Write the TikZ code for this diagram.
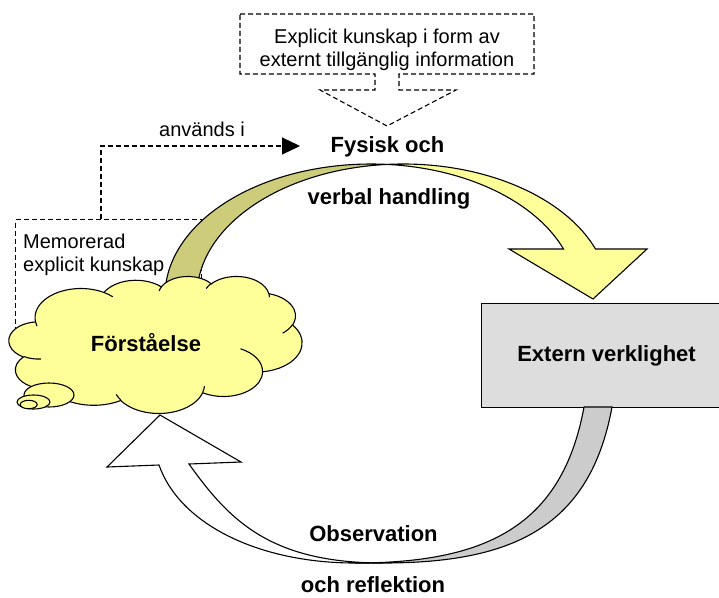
\documentclass[tikz,border=0pt]{standalone}
\usepackage{fontspec}
\setmainfont{Liberation Sans}
\usetikzlibrary{arrows.meta}
\definecolor{cloudyellow}{RGB}{255,255,153}
\definecolor{ribbonback}{RGB}{204,204,122}
\definecolor{realgrey}{RGB}{221,221,221}
\definecolor{bandgrey}{RGB}{204,204,204}
\tikzset{
  outline/.style={draw=black, line width=1.1pt, line join=miter},
  dashline/.style={draw=black, line width=1.1pt, dash pattern=on 5pt off 3pt},
  plain/.style={font=\fontsize{20}{23}\selectfont, inner sep=0pt},
  strong/.style={font=\fontsize{22}{26}\selectfont\bfseries, inner sep=0pt},
  bubble/.style={outline, fill=cloudyellow},
  % elliptic arc given by radii and visual start/sweep angles
  carc/.style n args={4}{start angle={vis(#1,#2,#3)},
    delta angle={vdel(#1,#2,#3,#4)}, x radius=#1, y radius=#2},
}
\begin{document}
\begin{tikzpicture}[x=1pt, y=-1pt,
  declare function={
    vis(\ra,\rb,\th)=atan2(\ra*sin(\th),\rb*cos(\th));
    vdel(\ra,\rb,\st,\sw)=(vis(\ra,\rb,\st+\sw)-vis(\ra,\rb,\st))
      +360*round((\sw-vis(\ra,\rb,\st+\sw)+vis(\ra,\rb,\st))/360);
  }]
\useasboundingbox (0,0) rectangle (719,597);
\clip (0,0) rectangle (719,597);

% memorised knowledge frame (lower part hidden by the cloud)
\node[dashline, minimum width=186pt, minimum height=121pt, inner sep=0pt,
      anchor=north west] (memo) at (15,219) {};
\node[plain, anchor=north west, align=left] (memotext) at (23,233.5)
      {Memorerad\\explicit kunskap};

% external information callout
\draw[dashline] (240,14) -- (534,14) -- (534,74) -- (399,74) -- (399,90)
  -- (456,90) -- (387,126) -- (320,90) -- (375,90) -- (375,74) -- (240,74) -- cycle;
\node[plain, anchor=north, align=center] (info) at (387,28.5)
      {Explicit kunskap i form av\\externt tillgänglig information};

% labels of the upper ribbon
\node[strong, anchor=base] (fysisk) at (387.5,152) {Fysisk och};
\node[strong, anchor=base] (verbal) at (389,204) {verbal handling};
\coordinate (usedEnd) at (300,146);
\node[plain, anchor=base] (used) at (202,136.5) {används i};
\draw[dashline, -{Triangle[length=18pt,width=17pt]}]
  ([xshift=86pt]memo.north west) |- (usedEnd);

% upper ribbon: back side
\filldraw[outline, fill=ribbonback]
  (165,296) arc[start angle=180, end angle=274.455, x radius=206, y radius=132]
  arc[start angle=265.545, end angle=180, x radius=206, y radius=132] -- cycle;
% upper ribbon: front side with arrow head
\filldraw[outline, fill=cloudyellow]
  (387,164.4) arc[start angle=265.545, end angle=339.142, x radius=206, y radius=132]
  -- (647,249) -- (593,299) -- (509,249) -- (563.5,249)
  arc[start angle=339.142, end angle=274.455, x radius=206, y radius=132] -- cycle;

% thought cloud (drawn on a 432 x 432 grid)
\begin{scope}[shift={(9,276)}, x=0.6782pt, y=-0.3171pt]
  \filldraw[outline, fill=cloudyellow] (39.00,143.70)
    arc[carc={67.53}{91.90}{-190.4875}{123.7805}]
    arc[carc={53.33}{72.67}{-144.1024}{89.9452}]
    arc[carc={43.65}{59.45}{-145.8079}{99.7230}]
    arc[carc={48.57}{65.95}{-130.9861}{117.2417}]
    arc[carc={53.33}{72.73}{-78.7089}{109.0269}]
    arc[carc={67.75}{92.20}{-46.2673}{130.2690}]
    arc[carc={57.85}{78.67}{0.6250}{114.0333}]
    arc[carc={67.52}{92.15}{22.4516}{115.1726}]
    arc[carc={77.20}{105.43}{66.2426}{75.7110}]
    arc[carc={43.60}{59.18}{-274.9421}{146.7356}]
    arc[carc={43.45}{59.45}{-246.8285}{152.5200}]
    -- cycle;
  \draw[outline]
    (46.93,261.77) arc[carc={43.45}{59.45}{86.742}{26.4295}]
    (69.28,348.99) arc[carc={43.60}{59.18}{73.6105}{11.4475}]
    (164.78,390.90) arc[carc={67.52}{92.15}{137.6242}{14.0811}]
    (288.27,347.51) arc[carc={67.52}{92.15}{6.4533}{15.9984}]
    (341.29,229.54) arc[carc={57.85}{78.67}{-70.2924}{70.9174}]
    (417.98,153.54) arc[carc={53.33}{72.73}{30.318}{27.7515}]
    (383.24,54.26) arc[carc={48.57}{65.95}{-13.7443}{14.8589}]
    (290.78,39.52) arc[carc={48.57}{65.95}{-149.1815}{18.1954}]
    (221.41,47.20) arc[carc={43.65}{59.45}{-163.4943}{19.51}]
    (140.00,51.92) arc[carc={67.53}{91.90}{-66.707}{12.3194}]
    (41.27,157.89) arc[carc={67.53}{91.90}{157.6544}{11.8582}];
\end{scope}
\filldraw[bubble] (49,395) ellipse[x radius=25, y radius=12];
\filldraw[bubble] (33.5,402) ellipse[x radius=16.5, y radius=7];
\filldraw[bubble] (28.7,404.5) ellipse[x radius=8.5, y radius=4.2];
\node[strong, anchor=base] (understanding) at (146,351.5) {Förståelse};

% external reality
\node[outline, fill=realgrey, minimum width=250pt, minimum height=104pt,
      inner sep=0pt, anchor=north west, font=\fontsize{22}{26}\selectfont\bfseries]
      (ext) at (481,303) {Extern verklighet};

% lower ribbon: back side
\filldraw[outline, fill=bandgrey]
  (355,563) .. controls (485,563) and (562,527) .. (584,407)
  -- (612,407) .. controls (590,527) and (513,563) .. (383,563) -- cycle;
% lower ribbon: front side with arrow head
\filldraw[outline, fill=white]
  (383,563) .. controls (270,563) and (229,520) .. (189,464)
  -- (241,462) -- (160,415) -- (107,467) -- (159,465)
  .. controls (180,525) and (260,563) .. (355,563) -- cycle;

\node[strong, anchor=base] (obs) at (373.5,541.5) {Observation};
\node[strong, anchor=base] (refl) at (373,592) {och reflektion};
\end{tikzpicture}
\end{document}
